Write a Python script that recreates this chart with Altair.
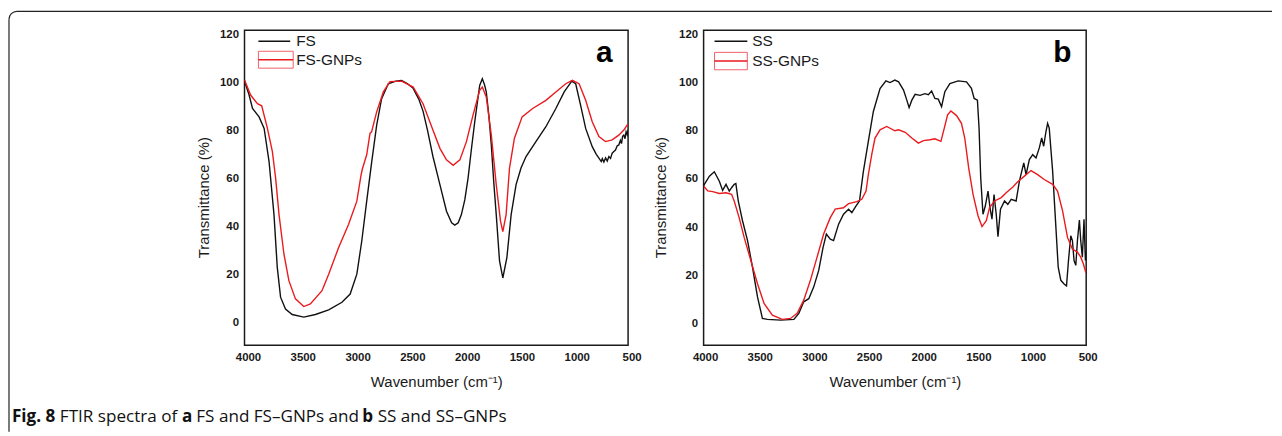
import altair as alt
import pandas as pd

# ---------------- data ----------------
FS_WN = [4000, 3960, 3927, 3867, 3821, 3776, 3731, 3701, 3671, 3626, 3565, 3459, 3353, 3232, 3111,
         3036, 2975, 2930, 2885, 2839, 2794, 2749, 2688, 2620, 2567, 2515, 2461, 2410, 2371, 2330,
         2280, 2217, 2157, 2110, 2081, 2050, 2021, 1990, 1960, 1930, 1899, 1854, 1830, 1810, 1794,
         1770, 1748, 1725, 1703, 1673, 1643, 1606, 1567, 1522, 1477, 1431, 1341, 1250, 1159, 1083,
         1014, 978, 933, 887, 827, 790, 766, 745, 735, 721, 705, 690, 675, 660, 645, 630, 615, 600,
         585, 570, 560, 550, 539, 528, 518, 508, 500]
FS_T = [100.5, 95.0, 89.1, 85.6, 80.8, 67.0, 44.9, 22.9, 10.5, 5.6, 3.3, 2.2, 3.3, 5.2, 8.4,
        11.8, 20.1, 33.9, 50.5, 67.0, 82.2, 93.2, 99.4, 100.5, 100.8, 99.5, 97.5, 93.0, 88.0, 80.0,
        69.0, 57.4, 46.3, 41.5, 40.5, 41.5, 44.9, 51.0, 60.1, 72.0, 83.6, 98.7, 101.5, 99.0, 96.0,
        86.0, 73.9, 58.0, 44.9, 25.6, 18.5, 27.0, 44.9, 57.4, 64.3, 69.1, 75.3, 81.5, 89.1, 96.0,
        100.5, 99.4, 90.4, 80.8, 73.2, 70.0, 68.4, 67.0, 68.2, 66.8, 68.5, 67.2, 69.1, 68.3, 70.5,
        71.2, 71.8, 73.5, 73.9, 75.8, 74.5, 77.5, 78.0, 76.5, 79.4, 78.2, 80.2]

FSG_WN = [4000, 3943, 3882, 3843, 3791, 3746, 3716, 3685, 3640, 3595, 3535, 3459, 3399, 3293, 3232,
          3141, 3051, 2975, 2936, 2924, 2885, 2855, 2840, 2794, 2733, 2673, 2567, 2461, 2371, 2280,
          2217, 2157, 2096, 2035, 1975, 1915, 1854, 1830, 1794, 1748, 1703, 1664, 1643, 1613, 1582,
          1537, 1467, 1371, 1250, 1159, 1069, 1008, 947, 887, 827, 766, 706, 645, 585, 539, 509, 500]
FSG_T = [101.0, 94.6, 91.1, 90.2, 80.8, 71.2, 60.1, 44.9, 28.4, 17.4, 9.8, 6.6, 7.7, 13.2, 20.1,
         31.2, 40.8, 50.5, 61.5, 64.0, 69.8, 78.7, 79.4, 87.7, 96.0, 100.3, 100.5, 98.0, 91.1, 80.0,
         72.5, 67.7, 65.4, 67.7, 75.3, 86.3, 96.7, 98.0, 93.9, 78.0, 57.4, 42.2, 37.8, 44.9, 64.3,
         76.7, 85.6, 89.1, 92.5, 96.0, 99.4, 100.8, 99.4, 92.5, 83.6, 77.4, 75.3, 76.0, 78.0, 80.1, 82.2, 82.0]

SS_WN = [4000, 3993, 3947, 3902, 3856, 3826, 3795, 3765, 3744, 3720, 3705, 3683, 3644, 3598, 3553,
         3507, 3462, 3416, 3295, 3174, 3129, 3084, 3038, 2993, 2947, 2907, 2877, 2841, 2811, 2765,
         2720, 2674, 2644, 2605, 2574, 2538, 2493, 2447, 2386, 2332, 2295, 2250, 2216, 2171, 2141,
         2120, 2095, 2065, 2020, 1975, 1944, 1914, 1884, 1853, 1823, 1793, 1747, 1671, 1595, 1550,
         1525, 1495, 1480, 1465, 1444, 1423, 1398, 1380, 1362, 1343, 1323, 1307, 1284, 1247, 1217,
         1186, 1141, 1111, 1071, 1050, 1020, 989, 959, 929, 907, 889, 868, 853, 838, 807, 777, 756,
         732, 702, 680, 662, 641, 626, 611, 595, 580, 562, 550, 535, 520, 507, 500]
SS_T = [57.2, 57.7, 61.1, 62.9, 59.0, 55.2, 57.7, 54.9, 56.3, 57.7, 58.0, 50.8, 42.6, 34.4, 23.4,
        11.0, 2.1, 1.7, 1.4, 1.7, 4.2, 9.0, 10.3, 15.1, 22.0, 31.6, 37.1, 35.0, 34.4, 41.2,
        45.3, 47.4, 46.0, 48.8, 50.8, 63.2, 75.5, 87.9, 97.4, 100.6, 99.9, 100.9, 100.2, 96.8, 92.6,
        89.5, 92.6, 95.0, 94.6, 95.3, 94.9, 96.4, 93.3, 93.0, 89.9, 96.1, 99.5, 100.6, 100.2, 97.5,
        93.3, 92.6, 81.0, 60.4, 45.3, 48.7, 54.9, 48.0, 43.3, 53.5, 45.3, 36.0, 47.4, 50.8, 49.4,
        51.5, 50.8, 59.0, 66.6, 61.7, 68.0, 70.0, 68.6, 72.8, 76.9, 73.5, 79.6, 83.0, 81.0, 63.2, 39.8, 23.4,
        17.9, 16.4, 15.6, 26.1, 36.4, 34.4, 26.1, 24.1, 34.4, 42.9, 34.4, 27.5, 43.2, 26.1, 30.0]

SSG_WN = [4000, 3993, 3962, 3917, 3856, 3795, 3744, 3720, 3675, 3629, 3568, 3507, 3447, 3371, 3280,
          3205, 3144, 3084, 3023, 2962, 2902, 2841, 2796, 2720, 2674, 2598, 2553, 2514, 2493, 2462,
          2432, 2386, 2325, 2250, 2216, 2156, 2095, 2035, 1989, 1929, 1884, 1829, 1798, 1768, 1738,
          1686, 1641, 1611, 1575, 1535, 1489, 1453, 1414, 1384, 1338, 1277, 1232, 1171, 1126, 1065,
          1005, 944, 884, 807, 762, 716, 671, 626, 580, 550, 526, 504, 500]
SSG_T = [57.0, 56.6, 55.0, 54.7, 53.9, 54.2, 53.6, 50.8, 43.9, 35.7, 26.1, 16.5, 8.3, 3.5, 1.7,
         2.1, 4.2, 9.7, 17.9, 27.5, 37.1, 43.9, 47.4, 48.0, 49.7, 50.5, 51.5, 54.9, 61.7, 70.0,
         76.9, 80.3, 81.7, 79.9, 80.3, 79.3, 76.9, 74.8, 75.8, 76.2, 76.6, 75.5, 81.0, 86.5, 88.1,
         86.2, 83.0, 76.9, 64.5, 53.5, 44.6, 40.2, 42.6, 48.1, 50.8, 52.2, 54.2, 56.6, 58.8, 61.1,
         63.4, 61.7, 59.7, 57.7, 54.9, 46.7, 35.7, 30.9, 29.6, 27.5, 24.8, 21.3, 21.0]

SERIES_A = ["FS", "FS-GNPs"]
SERIES_B = ["SS", "SS-GNPs"]
PANEL_TAGS = ["a", "b"]
X_TICKS = [4000, 3500, 3000, 2500, 2000, 1500, 1000, 500]
Y_TICKS = [0, 20, 40, 60, 80, 100, 120]
X_TITLE = "Wavenumber (cm\u207b\u00b9)"
Y_TITLE = "Transmittance (%)"
CAPTION_TEXT = ["Fig. 8", "FTIR spectra of", "a", "FS and FS\u2013GNPs and", "b", "SS and SS\u2013GNPs"]
CAPTION_BOLD = [True, False, True, False, True, False]

COLORS = ["#111111", "#ea1a1f"]
INK = "#1a1a1a"
H = 317


def make_df(names, wns, ts):
    rows = []
    for name, wn, t in zip(names, wns, ts):
        for i, (w, v) in enumerate(zip(wn, t)):
            rows.append({"series": name, "wn": w, "t": v, "i": i})
    return pd.DataFrame(rows)


ONE = pd.DataFrame({"k": [0]})


def panel(names, wns, ts, ydom, tag, leg, ytitle_x, width, xlab_off, extra=None):
    df = make_df(names, wns, ts)
    x = alt.X("wn:Q", scale=alt.Scale(domain=[4000, 500], nice=False, zero=False),
              axis=alt.Axis(values=X_TICKS, format="d", title=X_TITLE, labelFlush=False,
                            labelOffset=xlab_off, titleY=37, titleBaseline="middle"))
    y = alt.Y("t:Q", scale=alt.Scale(domain=ydom, nice=False, zero=False),
              axis=alt.Axis(values=Y_TICKS, format="d", title=Y_TITLE, titleAngle=270, labelFlush=False,
                            titleX=ytitle_x, titleY=168, titleBaseline="middle"))
    lines = alt.Chart(df).mark_line(strokeWidth=1.4, clip=True).encode(
        x=x, y=y,
        color=alt.Color("series:N", scale=alt.Scale(domain=names, range=COLORS), legend=None),
        order="i:Q",
    )
    lx0, lx1, ly0, ly1, bx1, by0, by1, tx = leg
    base = alt.Chart(ONE)
    leg1 = base.mark_rule(color=COLORS[0], strokeWidth=1.5).encode(
        x=alt.value(lx0), x2=alt.value(lx1), y=alt.value(ly0))
    box = base.mark_rect(stroke="#f06068", strokeWidth=1.0, fill="white", fillOpacity=0).encode(
        x=alt.value(lx0), x2=alt.value(bx1), y=alt.value(by0), y2=alt.value(by1))
    leg2 = base.mark_rule(color=COLORS[1], strokeWidth=1.6).encode(
        x=alt.value(lx0), x2=alt.value(bx1), y=alt.value(ly1))
    t1 = base.mark_text(align="left", baseline="middle", font="Liberation Sans", fontSize=15.5,
                        color=INK).encode(x=alt.value(tx), y=alt.value(ly0), text=alt.value(names[0]))
    t2 = base.mark_text(align="left", baseline="middle", font="Liberation Sans", fontSize=15.5,
                        color=INK).encode(x=alt.value(tx), y=alt.value(ly1), text=alt.value(names[1]))
    lab = base.mark_text(align="center", baseline="alphabetic", font="Liberation Sans",
                         fontWeight="bold", fontSize=30, color="#000").encode(
        x=alt.value(width - 24), y=alt.value(32), text=alt.value(tag))
    layers = [lines, leg1, box, leg2, t1, t2, lab]
    if extra:
        layers += extra
    return alt.layer(*layers).properties(width=width, height=H)


# decorative frame (top and left edges, rounded corner) and caption, placed relative to panel a
frame_col = "#222222"
base = alt.Chart(ONE)
frame = [
    base.mark_rule(color=frame_col, strokeWidth=1.2).encode(
        x=alt.value(-229), x2=alt.value(1034), y=alt.value(-19)),
    base.mark_rule(color=frame_col, strokeWidth=1.2).encode(
        x=alt.value(-237), y=alt.value(-11), y2=alt.value(404)),
    base.mark_arc(color=frame_col, radius=8.6, radius2=7.4, theta=4.712389, theta2=6.283185).encode(
        x=alt.value(-229), y=alt.value(-11)),
]
cap_x = [-234.0, -185.8, -63.0, -48.5, 118.5, 134.0]
for txt, bold, cx in zip(CAPTION_TEXT, CAPTION_BOLD, cap_x):
    frame.append(base.mark_text(align="left", baseline="alphabetic", font="Open Sans",
                                fontSize=17.2, fontWeight="bold" if bold else "normal",
                                color="#111").encode(
        x=alt.value(cx), y=alt.value(394), text=alt.value(txt)))

pa = panel(SERIES_A, [FS_WN, FSG_WN], [FS_T, FSG_T], [-9.5, 121.7], PANEL_TAGS[0],
           (14, 46, 11.2, 29.7, 49, 21.2, 38.2, 52), -41, 386, 3.5, extra=frame)
pb = panel(SERIES_B, [SS_WN, SSG_WN], [SS_T, SSG_T], [-9.0, 121.6], PANEL_TAGS[1],
           (11, 44, 11.2, 31.0, 44, 22.3, 39.8, 49), -43.5, 385, 1.5)

chart = alt.hconcat(pa, pb, spacing=76, bounds="flush").properties(
    padding={"left": -1, "top": 0, "right": 0, "bottom": 0}
).configure_view(
    stroke=INK, strokeWidth=1.5
).configure_axis(
    labelFont="Liberation Sans", labelFontWeight="bold", labelFontSize=11.5, labelColor=INK,
    titleFont="Liberation Sans", titleFontWeight="normal", titleFontSize=15, titleColor=INK,
    domain=False, ticks=False, tickSize=0, grid=False, labelPadding=6,
)

chart.save("out.html", embed_options={"renderer": "svg", "actions": False})
